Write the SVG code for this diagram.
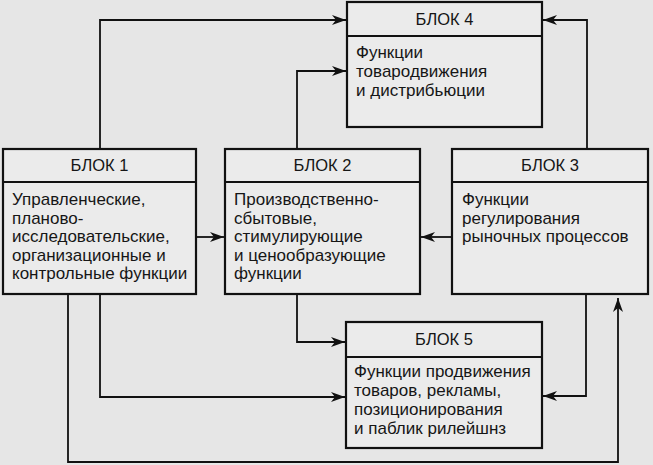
<svg xmlns="http://www.w3.org/2000/svg" width="653" height="465" viewBox="0 0 653 465">
<style>
.box{fill:#ebebeb;stroke:#111;stroke-width:2.2}
.div{stroke:#111;stroke-width:1.8}
.h{font-family:"Liberation Sans",Arial,sans-serif;font-size:16.5px;fill:#161616;text-anchor:middle}
.t{font-family:"Liberation Sans",Arial,sans-serif;font-size:17px;fill:#161616}
.c{fill:none;stroke:#111;stroke-width:1.8;marker-end:url(#arr)}
</style>
<defs>
<marker id="arr" markerUnits="userSpaceOnUse" markerWidth="15" markerHeight="11" refX="14" refY="5.5" orient="auto">
<path d="M0,0.5 L14,5.5 L0,10.5 L4,5.5 Z" fill="#111"/>
</marker>
</defs>
<rect x="0" y="0" width="653" height="465" fill="#e6e6e6"/>
<g id="connectors">
<path class="c" d="M100,149 V20 H346"/>
<path class="c" d="M297,149 V71 H346"/>
<path class="c" d="M587,149 V20 H543"/>
<path class="c" d="M196,237 H224"/>
<path class="c" d="M452,237 H421"/>
<path class="c" d="M100,294 V397 H345"/>
<path class="c" d="M297,294 V342 H345"/>
<path class="c" d="M586,294 V396 H543"/>
<path class="c" d="M68,294 V462 H618 V298"/>
</g>
<g id="blok4">
<rect class="box" x="347" y="2" width="195" height="125"/>
<line class="div" x1="347" y1="36" x2="542" y2="36"/>
<text class="h" x="444.5" y="25">БЛОК 4</text>
<text class="t" x="356" y="58">Функции</text>
<text class="t" x="356" y="77">товародвижения</text>
<text class="t" x="356" y="96">и дистрибьюции</text>
</g>
<g id="blok1">
<rect class="box" x="3" y="149" width="193" height="145"/>
<line class="div" x1="3" y1="182" x2="196" y2="182"/>
<text class="h" x="99.5" y="171">БЛОК 1</text>
<text class="t" x="12" y="205">Управленческие,</text>
<text class="t" x="12" y="223.5">планово-</text>
<text class="t" x="12" y="242">исследовательские,</text>
<text class="t" x="12" y="260.5">организационные и</text>
<text class="t" x="12" y="279">контрольные функции</text>
</g>
<g id="blok2">
<rect class="box" x="225" y="149" width="195" height="145"/>
<line class="div" x1="225" y1="182" x2="420" y2="182"/>
<text class="h" x="322.5" y="171">БЛОК 2</text>
<text class="t" x="234" y="205">Производственно-</text>
<text class="t" x="234" y="223.5">сбытовые,</text>
<text class="t" x="234" y="242">стимулирующие</text>
<text class="t" x="234" y="260.5">и ценообразующие</text>
<text class="t" x="234" y="279">функции</text>
</g>
<g id="blok3">
<rect class="box" x="452" y="149" width="196" height="145"/>
<line class="div" x1="452" y1="182" x2="648" y2="182"/>
<text class="h" x="550" y="171">БЛОК 3</text>
<text class="t" x="462" y="205">Функции</text>
<text class="t" x="462" y="223.5">регулирования</text>
<text class="t" x="462" y="242">рыночных процессов</text>
</g>
<g id="blok5">
<rect class="box" x="346" y="322" width="196" height="126"/>
<line class="div" x1="346" y1="357" x2="542" y2="357"/>
<text class="h" x="444" y="345">БЛОК 5</text>
<text class="t" x="354" y="377">Функции продвижения</text>
<text class="t" x="354" y="396">товаров, рекламы,</text>
<text class="t" x="354" y="415">позиционирования</text>
<text class="t" x="354" y="434">и паблик рилейшнз</text>
</g>
</svg>
